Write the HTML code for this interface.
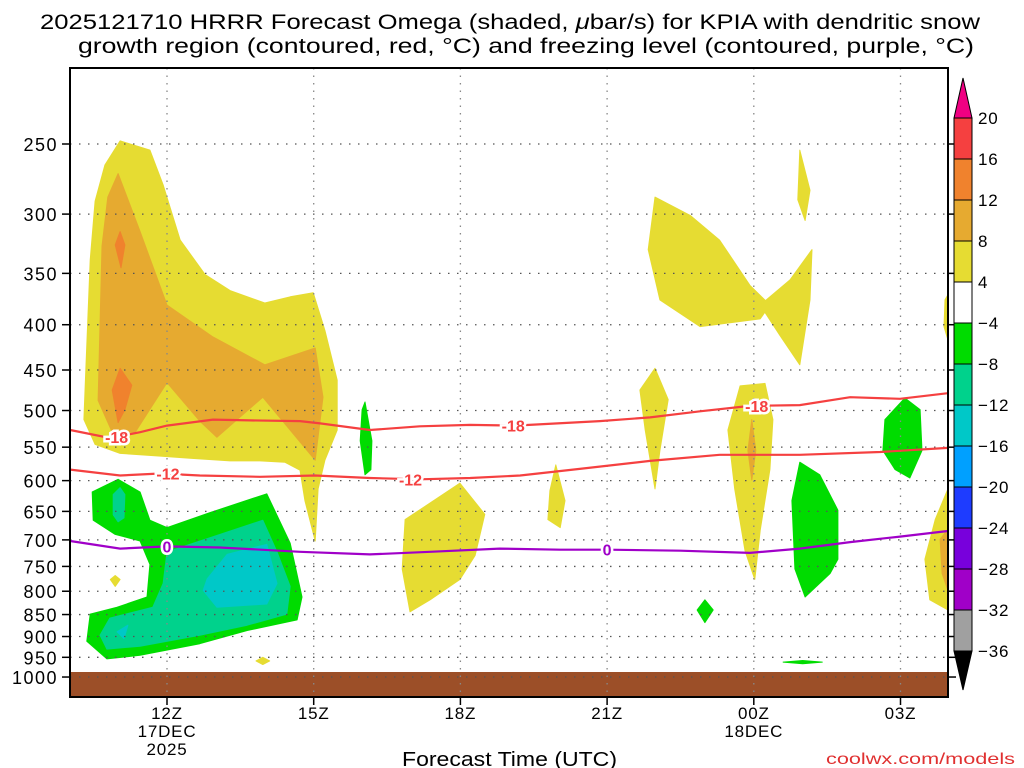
<!DOCTYPE html>
<html><head><meta charset="utf-8">
<style>
body{margin:0;background:#fff;width:1024px;height:768px;overflow:hidden;font-family:"Liberation Sans",sans-serif}
svg{display:block}
text{font-family:"Liberation Sans",sans-serif}
</style></head>
<body>
<svg id="chart" width="1024" height="768" viewBox="0 0 1024 768">
<g>
<text x="40" y="29" font-size="21" fill="#000" textLength="940" lengthAdjust="spacingAndGlyphs">2025121710 HRRR Forecast Omega (shaded, <tspan font-style="italic">μ</tspan>bar/s) for KPIA with dendritic snow</text>
<text x="78" y="53" font-size="21" fill="#000" textLength="896" lengthAdjust="spacingAndGlyphs">growth region (contoured, red, °C) and freezing level (contoured, purple, °C)</text>
</g>
<g id="shades"></g>
<rect x="70" y="672" width="878" height="25" fill="#9c4f28"/>
<g id="grid"></g>
<g id="lines"></g>
<rect x="70" y="68" width="878" height="629" fill="none" stroke="#000" stroke-width="2"/>
<g id="axes"></g>
<text x="402" y="766" font-size="20" fill="#000" textLength="215" lengthAdjust="spacingAndGlyphs">Forecast Time (UTC)</text>
<text x="826" y="764" font-size="16" fill="#e03030" textLength="189" lengthAdjust="spacingAndGlyphs">coolwx.com/models</text>
<g id="cbar"></g>
</svg>
<script>
// axis definitions
const pressureTicks = [250,300,350,400,450,500,550,600,650,700,750,800,850,900,950,1000];
const timeTicksHours = [0,3,6,9,12,15];
const timeTickLabels = ["12Z","15Z","18Z","21Z","00Z","03Z"];
const timeTickSub1 = ["17DEC","","","","18DEC",""];
const timeTickSub2 = ["2025","","","","",""];
const cbarLevels = [20,16,12,8,4,-4,-8,-12,-16,-20,-24,-28,-32,-36];
const cbarColors = ["#f54040","#f0822d","#e6aa30","#e6dc32","#ffffff","#00dc00","#00d28c","#00c8c8","#00a0ff","#1e3cff","#7800dc","#a000c8","#a0a0a0"];

// contour lines: [hour since 12Z, pressure]
const lineM18H = [-1.98,-1.17,-0.55,0,0.94,1.7,2.72,3.13,4.15,5.17,6.2,7.12,8.85,9.88,10.9,11.92,12.94,13.97,14.99,15.97];
const lineM18P = [526,537,529,520,512,513,514,517,526,521,519,520,514,509,501,494,493,483,485,478];
const lineM12H = [-1.98,-0.96,-0.14,0.67,1.9,3.03,4.15,5.17,6.2,7.22,8.44,9.88,11.3,12.94,14.58,15.97];
const lineM12P = [583,592,589,592,594,592,596,598,596,592,582,570,561,561,557,551];
const line0H = [-1.98,-0.96,0,1.08,2.72,4.15,5.38,6.8,8.04,9.02,10.5,11.92,12.94,13.97,14.99,15.97];
const line0P = [702,716,712,714,722,727,722,716,718,718,720,724,716,704,694,684];

// shaded regions: level color index, hours[], pressures[]
const shadeLevels = [3,2,1,1,5,6,6,7,7,5,3,3,3,3,3,3,3,2,5,5,5,3,3,2,3,3,5];
const shadeH = [
[-0.96,-0.35,-0.08,0.27,0.78,1.29,2.0,2.52,2.99,3.23,3.48,3.48,3.23,3.09,3.03,2.82,2.72,2.41,1.9,1.29,0.47,-0.14,-0.96,-1.47,-1.7,-1.66,-1.62,-1.57,-1.47,-1.27],
[-1.0,-0.55,0,0.94,2.0,3.03,3.19,3.03,1.96,1.02,0.67,0,-0.65,-1.12,-1.41,-1.33,-1.21],
[-0.96,-0.86,-0.94,-1.06],
[-0.96,-0.72,-0.86,-1.0,-1.12],
[-1.0,-0.55,-0.35,0,0.88,2.04,2.52,2.76,2.66,1.64,0.67,-0.55,-1.23,-1.64,-1.57,-1.02,-0.41,-0.35,-0.55,-1.06,-1.51,-1.53],
[0,0.88,1.96,2.25,2.52,2.45,1.64,0.67,-0.55,-1.23,-1.37,-1.17,-0.29,-0.08],
[-1.1,-0.96,-0.86,-0.88,-1.0,-1.1],
[0.82,1.23,2.04,2.25,2.04,1.02,0.74],
[-1.02,-0.8,-0.88],
[4.05,4.19,4.17,4.05,3.95,3.99],
[4.87,5.99,6.5,6.3,5.99,5.38,4.97,4.81],
[7.95,8.14,8.04,7.79,7.83],
[9.98,10.7,11.3,11.92,12.33,12.13,10.9,10.08,9.84],
[9.98,10.25,10.08,9.98,9.78,9.67],
[12.94,13.15,13.05,12.9],
[13.19,13.15,12.94,12.53,12.13,12.74],
[11.72,12.23,12.39,12.33,12.13,12.02,11.82,11.61,11.47],
[11.96,12.04,11.96,11.88],
[12.94,13.35,13.72,13.72,13.56,13.05,12.84,12.78],
[11.0,11.17,11.0,10.84],
[15.09,15.4,15.44,15.19,14.89,14.64,14.68],
[15.97,15.97,15.6,15.5,15.71],
[15.91,15.97,15.97,15.89],
[15.81,15.97,15.97,15.85],
[-1.06,-0.96,-1.06,-1.16],
[1.96,2.1,1.96,1.82],
[13.0,13.4,13.0,12.6]
];
const shadeP = [
[248,254,278,321,351,366,378,372,368,406,462,526,569,613,702,632,584,572,570,570,566,563,559,546,512,450,395,338,290,264],
[270,314,380,413,444,425,483,569,483,536,514,465,529,529,487,326,287],
[314,325,345,325],
[448,468,499,516,474],
[598,618,665,678,652,621,706,812,862,886,917,945,954,911,849,834,812,746,702,690,665,618],
[722,696,665,722,790,849,874,897,923,930,897,858,834,784],
[622,611,622,661,668,656],
[775,727,708,784,827,834,798],
[889,874,905],
[489,541,583,591,541,499],
[664,604,655,729,776,818,844,755],
[576,632,678,664,616],
[287,301,321,361,380,394,402,375,329],
[448,486,555,613,526,474],
[254,282,305,289],
[329,375,444,411,380,356],
[469,466,512,583,683,776,720,613,526],
[512,555,599,555],
[572,591,648,736,764,812,755,632],
[818,840,868,840],
[484,499,555,596,583,555,512],
[613,840,818,736,664],
[375,370,416,402],
[699,681,798,764],
[768,776,790,776],
[950,959,968,959],
[958,962,966,962]
];

const NS="http://www.w3.org/2000/svg";
function X(h){return 167+h*48.9;}
function Y(p){return 144+384.5*Math.log(p/250);}
function mk(tag,attrs,parent){const e=document.createElementNS(NS,tag);for(const k in attrs)e.setAttribute(k,attrs[k]);parent.appendChild(e);return e;}

const shades=document.getElementById('shades');
for(let i=0;i<shadeH.length;i++){
  const pts=shadeH[i].map((h,j)=>X(h).toFixed(1)+','+Y(shadeP[i][j]).toFixed(1)).join(' ');
  const e=mk('polygon',{points:pts,fill:cbarColors[shadeLevels[i]],'stroke':cbarColors[shadeLevels[i]],'stroke-width':1,'stroke-linejoin':'round'},shades);
  
  
}

const grid=document.getElementById('grid');
pressureTicks.forEach(p=>{
  const e=mk('line',{x1:70,x2:948,y1:Y(p),y2:Y(p),stroke:'#555','stroke-width':1.3,'stroke-dasharray':'1.5,7.5'},grid);
  
  
});
timeTicksHours.forEach(h=>{
  const e=mk('line',{x1:X(h),x2:X(h),y1:68,y2:697,stroke:'#888','stroke-width':1.3,'stroke-dasharray':'1.5,6'},grid);
  
  
});

const lines=document.getElementById('lines');
function drawLine(H,P,color,name){
  const d=H.map((h,j)=>(j?'L':'M')+X(h).toFixed(1)+','+Y(P[j]).toFixed(1)).join('');
  const e=mk('path',{d:d,fill:'none',stroke:color,'stroke-width':2.2},lines);
  
  
}
drawLine(lineM18H,lineM18P,'#f54040','contour-minus18');
drawLine(lineM12H,lineM12P,'#f54040','contour-minus12');
drawLine(line0H,line0P,'#a000c8','freezing-level-0');
function label(h,p,t,color,w){
  const x=X(h),y=Y(p);
  const e=mk('text',{x:x,y:y+6,'text-anchor':'middle','font-size':16,'font-weight':'bold',fill:color,stroke:'#fff','stroke-width':5,'paint-order':'stroke'},lines);
  e.textContent=t;
  
  
}
label(-1.03,536,'-18','#f54040');label(7.08,520,'-18','#f54040');label(12.06,494,'-18','#f54040');
label(0.02,589,'-12','#f54040');label(4.98,598,'-12','#f54040');
label(0,712,'0','#a000c8');label(9,718,'0','#a000c8');

const axes=document.getElementById('axes');
pressureTicks.forEach(p=>{
  const t=mk('line',{x1:62,x2:70,y1:Y(p),y2:Y(p),stroke:'#000','stroke-width':1.5},axes);
  
  
  const t2=mk('line',{x1:948,x2:956,y1:Y(p),y2:Y(p),stroke:'#000','stroke-width':1.5},axes);
  
  
  const e=mk('text',{x:58,y:Y(p)+7,'text-anchor':'end','font-size':18,'letter-spacing':1.5,fill:'#000'},axes);
  e.textContent=p;
  
  
});
timeTicksHours.forEach((h,i)=>{
  const t=mk('line',{x1:X(h),x2:X(h),y1:697,y2:705,stroke:'#000','stroke-width':1.5},axes);
  
  
  [[timeTickLabels[i],719],[timeTickSub1[i],737],[timeTickSub2[i],755]].forEach(([s,y])=>{
    if(!s)return;
    const e=mk('text',{x:X(h),y:y,'text-anchor':'middle','font-size':17,'letter-spacing':0.8,fill:'#000'},axes);
    e.textContent=s;
    
    
  });
});

const cbar=document.getElementById('cbar');
const cbTop=118,cbStep=41,cbX=954,cbW=18;
for(let i=0;i<cbarColors.length;i++){
  const e=mk('rect',{x:cbX,y:cbTop+i*cbStep,width:cbW,height:cbStep,fill:cbarColors[i],stroke:'#000','stroke-width':1},cbar);
  
  
}
cbarLevels.forEach((v,i)=>{
  const e=mk('text',{x:978,y:cbTop+i*cbStep+6,'font-size':17,'letter-spacing':0.8,fill:'#000'},cbar);
  e.textContent=v<0?'\u2212'+(-v):String(v);
  
  
});
const bot=cbTop+cbarColors.length*cbStep;
const tt=mk('polygon',{points:`${cbX},${cbTop} ${cbX+cbW},${cbTop} ${cbX+cbW/2},78`,fill:'#f00082',stroke:'#000','stroke-width':1},cbar);


const bt=mk('polygon',{points:`${cbX},${bot} ${cbX+cbW},${bot} ${cbX+cbW/2},690`,fill:'#000',stroke:'#000','stroke-width':1},cbar);


</script>
</body></html>
